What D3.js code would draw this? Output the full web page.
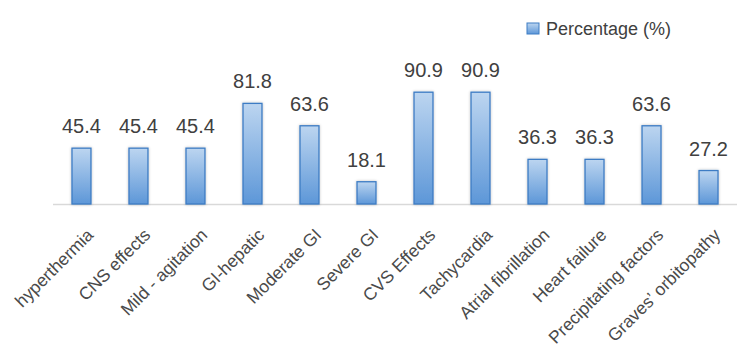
<!DOCTYPE html>
<html><head><meta charset="utf-8">
<script src="https://cdn.jsdelivr.net/npm/d3@7"></script>
<style>html,body{margin:0;padding:0;background:#fff;}svg{display:block;font-family:"Liberation Sans",Arial,sans-serif;}</style>
</head><body><svg id="c" width="750" height="363"></svg>
<script>
const categories = ["hyperthermia","CNS effects","Mild - agitation","GI-hepatic","Moderate GI","Severe GI","CVS Effects","Tachycardia","Atrial fibrillation","Heart failure","Precipitating factors","Graves’ orbitopathy"];
const values = [45.4,45.4,45.4,81.8,63.6,18.1,90.9,90.9,36.3,36.3,63.6,27.2];
const seriesName = "Percentage (%)";

const svg = d3.select("#c");
const defs = svg.append("defs");
const g1 = defs.append("linearGradient").attr("id","barGrad").attr("x1",0).attr("y1",0).attr("x2",0).attr("y2",1);
g1.append("stop").attr("offset","0%").attr("stop-color","#bcd5f0");
g1.append("stop").attr("offset","100%").attr("stop-color","#5d97d8");
const f = defs.append("filter").attr("id","sh").attr("x","-50%").attr("y","-20%").attr("width","200%").attr("height","140%");
f.append("feGaussianBlur").attr("in","SourceAlpha").attr("stdDeviation",1.5).attr("result","b");
f.append("feOffset").attr("in","b").attr("dx",0).attr("dy",0).attr("result","o");
f.append("feComponentTransfer").attr("in","o").attr("result","o2").append("feFuncA").attr("type","linear").attr("slope",0.25);
const fm = f.append("feMerge"); fm.append("feMergeNode").attr("in","o2"); fm.append("feMergeNode").attr("in","SourceGraphic");

const left = 53, right = 737, base = 204;
const x = d3.scaleBand().domain(categories).range([left,right]).paddingInner(0.667).paddingOuter(0.333);
const y = d3.scaleLinear().domain([0,100]).range([base, base-123]);

svg.append("line").attr("x1",left).attr("x2",right).attr("y1",base+0.5).attr("y2",base+0.5)
  .attr("stroke","#d9d9d9").attr("stroke-width",1.5);

svg.selectAll("rect.bar").data(values).join("rect").attr("class","bar")
  .attr("x",(d,i)=>x(categories[i])).attr("width",x.bandwidth())
  .attr("y",d=>y(d)).attr("height",d=>base-y(d))
  .attr("fill","url(#barGrad)").attr("stroke","#3d7cc4").attr("stroke-width",1.3)
  .attr("filter","url(#sh)");

svg.selectAll("text.val").data(values).join("text").attr("class","val")
  .attr("x",(d,i)=>x(categories[i])+x.bandwidth()/2).attr("y",d=>y(d)-15)
  .attr("text-anchor","middle").attr("font-size",20).attr("fill","#404040").text(d=>d.toFixed(1));

svg.selectAll("text.cat").data(categories).join("text").attr("class","cat")
  .attr("transform",d=>`translate(${x(d)+x.bandwidth()/2+13},${base+32}) rotate(-45)`)
  .attr("text-anchor","end").attr("font-size",17.5).attr("fill","#4a4a4a").text(d=>d);

const lg = svg.append("g").attr("transform","translate(527,23)");
lg.append("rect").attr("width",12).attr("height",11).attr("fill","url(#barGrad)").attr("stroke","#3d7cc4").attr("stroke-width",1);
lg.append("text").attr("x",19).attr("y",11.5).attr("font-size",18).attr("fill","#404040").text(seriesName);
</script></body></html>
